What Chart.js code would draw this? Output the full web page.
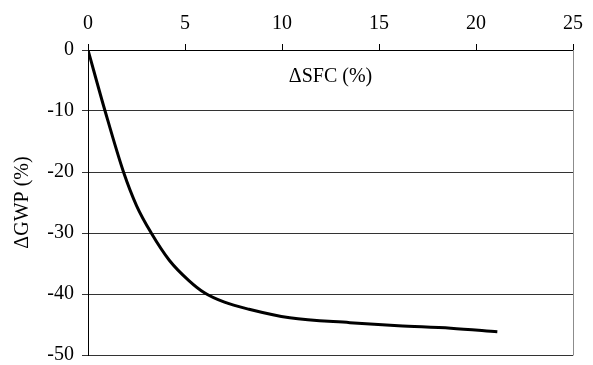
<!DOCTYPE html>
<html>
<head>
<meta charset="utf-8">
<script src="https://cdn.jsdelivr.net/npm/chart.js@4"></script>
<style>
  html, body { margin: 0; padding: 0; background: #fff; }
  #wrap { width: 593px; height: 365px; }
</style>
</head>
<body>
<div id="wrap"><canvas id="chart" width="593" height="365"></canvas></div>
<script>
// values
const sfcValues = [0, 0.88, 1.83, 2.5, 3.26, 4.2, 5.2, 6.0, 7.0, 8.3, 10.4, 13.5, 16.0, 18.7, 21.1];
const gwpValues = [0, -10, -20, -25.5, -30, -34.5, -37.8, -39.8, -41.3, -42.5, -43.9, -44.7, -45.2, -45.6, -46.2];
const xTicks = [0, 5, 10, 15, 20, 25];
const yTicks = [0, -10, -20, -30, -40, -50];

const serif = "'Liberation Serif', 'Times New Roman', serif";

// x title sits inside the plot, plus grey right edge
const extras = {
  id: 'extras',
  afterDraw(chart) {
    const { ctx, chartArea: a } = chart;
    ctx.save();
    ctx.strokeStyle = '#8c8c8c';
    ctx.lineWidth = 1;
    ctx.beginPath();
    ctx.moveTo(a.right + 0.5, a.top);
    ctx.lineTo(a.right + 0.5, a.bottom + 0.5);
    ctx.stroke();
    ctx.fillStyle = '#000';
    ctx.font = '20px ' + serif;
    ctx.textAlign = 'center';
    ctx.textBaseline = 'middle';
    ctx.fillText('ΔSFC (%)', (a.left + a.right) / 2, a.top + 27);
    ctx.restore();
  }
};

new Chart(document.getElementById('chart'), {
  type: 'line',
  data: {
    datasets: [{
      data: sfcValues.map((x, i) => ({ x, y: gwpValues[i] })),
      borderColor: '#000',
      borderWidth: 3,
      pointRadius: 0,
      cubicInterpolationMode: 'monotone',
      fill: false
    }]
  },
  options: {
    responsive: false,
    animation: false,
    layout: { padding: { left: 0, top: 0, right: 20, bottom: 10 } },
    plugins: { legend: { display: false }, tooltip: { enabled: false } },
    scales: {
      x: {
        type: 'linear',
        position: 'top',
        min: 0,
        max: 25,
        afterBuildTicks: s => { s.ticks = xTicks.map(v => ({ value: v })); },
        afterFit: s => { s.height = 50; },
        ticks: { color: '#000', font: { family: serif, size: 20 }, padding: 8, maxRotation: 0 },
        grid: { drawOnChartArea: false, drawTicks: true, tickLength: 6, color: '#000' },
        border: { color: '#000', width: 1 }
      },
      y: {
        min: -50,
        max: 0,
        afterBuildTicks: s => { s.ticks = yTicks.map(v => ({ value: v })); },
        afterFit: s => { s.width = 88; s.paddingBottom = 0; s.paddingTop = 0; },
        ticks: { color: '#000', font: { family: serif, size: 20 }, padding: 8 },
        grid: { color: '#333', tickLength: 6, lineWidth: 1 },
        border: { color: '#000', width: 1 },
        title: {
          display: true,
          text: 'ΔGWP (%)',
          color: '#000',
          font: { family: serif, size: 20 },
          padding: { top: 11, bottom: 0 }
        }
      }
    }
  },
  plugins: [extras]
});
</script>
</body>
</html>
